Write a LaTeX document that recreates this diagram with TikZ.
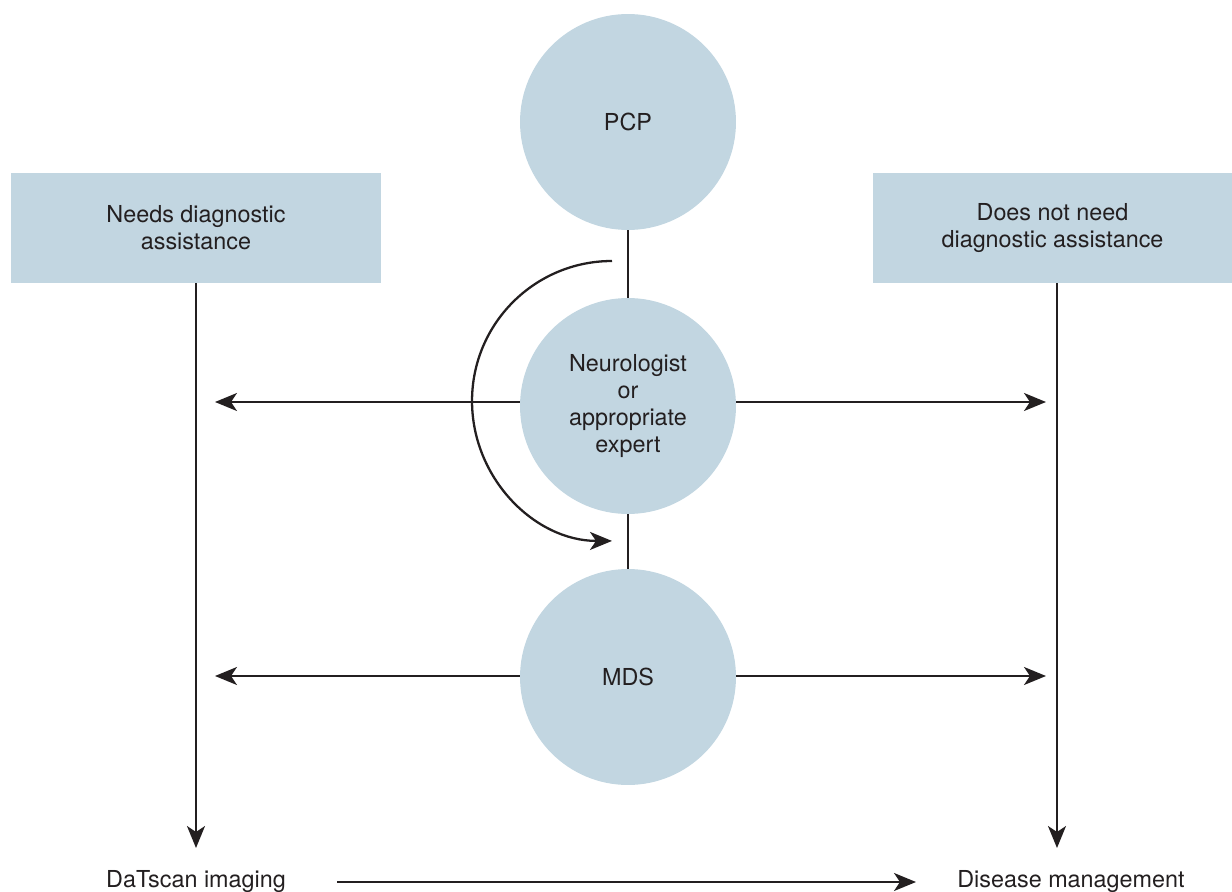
\documentclass[tikz,border=0pt]{standalone}
\usepackage{fontspec}
\setmainfont{TeX Gyre Heros}
\usepackage{xcolor}
\usetikzlibrary{calc,positioning,arrows.meta}

\definecolor{paleblue}{RGB}{194,214,225}
\definecolor{inkgray}{RGB}{35,31,32}

\tikzset{
    role/.style={circle, fill=paleblue, minimum size=4.32cm, inner sep=0},
    need/.style={fill=paleblue, minimum height=2.2cm},
    flow/.style={draw=inkgray, line width=1.3pt, -{Stealth[length=0.44cm, width=0.36cm, inset=0.12cm]}},
    link/.style={draw=inkgray, line width=1.3pt},
}

\begin{document}
\begin{tikzpicture}[x=0.02cm, y=-0.02cm, align=center, font=\fontsize{13.3}{15.4}\selectfont, text=inkgray]
    \useasboundingbox (0,0) rectangle (1232,892);

    \node [role] (pcp) at (628,122) {PCP};
    \node [role] (neurologist) at (628,406) {Neurologist\\or\\appropriate\\expert};
    \node [role] (mds) at (628,677) {MDS};

    \node [need, minimum width=7.4cm] (needs) at (196,228) {Needs diagnostic\\assistance};
    \node [need, minimum width=7.18cm] (no_need) at (1052.5,228) {Does not need\\diagnostic assistance};

    \node (datscan) at (196,882) {DaTscan imaging};
    \node (management) at (1071,882) {Disease management};

    \coordinate (left_neuro) at (215,402);
    \coordinate (right_neuro) at (1046,402);
    \coordinate (left_mds) at (215,676);
    \coordinate (right_mds) at (1046,676);
    \coordinate (left_end) at (196,848);
    \coordinate (right_end) at (1057,848);
    \coordinate (scan_out) at (337,882);
    \coordinate (manage_in) at (916,882);
    \coordinate (loop_start) at (612,261);

    \draw[link] (pcp) -- (neurologist);
    \draw[link] (neurologist) -- (mds);

    \draw[flow] (needs.south) -- (left_end);
    \draw[flow] (no_need.south -| right_end) -- (right_end);

    \draw[flow] (left_neuro -| neurologist.west) -- (left_neuro);
    \draw[flow] (right_neuro -| neurologist.east) -- (right_neuro);
    \draw[flow] (left_mds -| mds.west) -- (left_mds);
    \draw[flow] (right_mds -| mds.east) -- (right_mds);

    \draw[flow] (scan_out) -- (manage_in);

    \draw[flow] (loop_start) arc[start angle=90, end angle=270, radius=2.8cm];
\end{tikzpicture}
\end{document}
